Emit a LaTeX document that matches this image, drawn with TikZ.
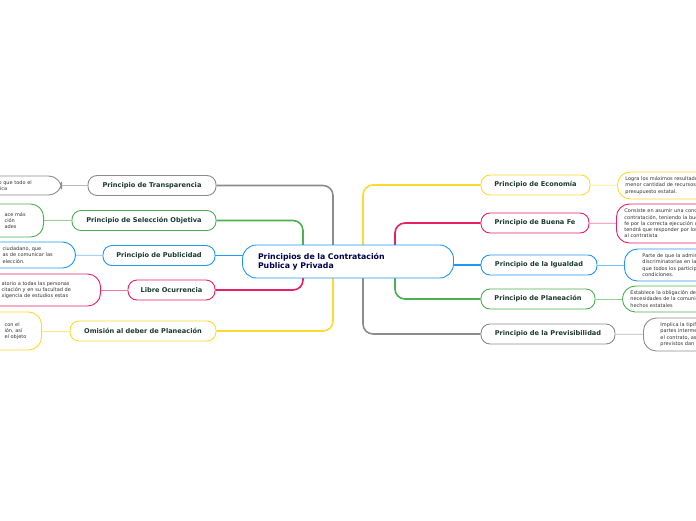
\documentclass[tikz,border=0pt]{standalone}
\usepackage{fontspec}
\setmainfont{DejaVu Sans}
\definecolor{cgray}{HTML}{8C8C8C}
\definecolor{cgreen}{HTML}{4CAF50}
\definecolor{cblue}{HTML}{2196F3}
\definecolor{cpink}{HTML}{E91E63}
\definecolor{cyel}{HTML}{FFD92F}
\definecolor{ctext}{HTML}{1B3A2E}
\tikzset{
  rama/.style={draw=#1, rounded corners=9pt, line width=0.9pt, fill=white, minimum height=20pt, inner xsep=6pt, font=\bfseries\fontsize{6.6}{7}\selectfont, text=ctext},
  hoja/.style={draw=#1, rounded corners=13pt, line width=0.9pt, fill=white, font=\fontsize{5}{6.2}\selectfont, align=left, text=black!80},
  enlace/.style={draw=#1, line width=1.6pt, rounded corners=10pt},
  fino/.style={draw=#1!60, line width=0.8pt}
}
\begin{document}
\begin{tikzpicture}[x=1pt,y=-1pt]
\useasboundingbox (0,0) rectangle (696,520);
\fill[white] (0,0) rectangle (696,520);

%%%%%%%% Ramas izquierda %%%%%%%%
\node[rama=cgray, minimum width=128pt] (transp) at (152,185.5) {Principio de Transparencia};
\node[rama=cgreen, minimum width=144pt] (selec) at (144,220.5) {Principio de Selección Objetiva};
\node[rama=cblue, minimum width=112pt] (publi) at (159,255.5) {Principio de Publicidad};
\node[rama=cpink, minimum width=87pt] (libre) at (171.5,290) {Libre Ocurrencia};
\node[rama=cyel, minimum width=146pt] (omis) at (143,331) {Omisión al deber de Planeación};

%%%%%%%% Ramas derecha %%%%%%%%
\node[rama=cyel, minimum width=109pt] (econ) at (535.5,185) {Principio de Economía};
\node[rama=cpink, minimum width=108pt] (buena) at (535,223) {Principio de Buena Fe};
\node[rama=cblue, minimum width=116pt] (igual) at (539,265) {Principio de la Igualdad};
\node[rama=cgreen, minimum width=114pt] (plan) at (538,299) {Principio de Planeación};
\node[rama=cgray, minimum width=134pt] (previ) at (548,334) {Principio de la Previsibilidad};

%%%%%%%% Enlaces %%%%%%%%
\coordinate (cc) at (348,261.5);
\draw[enlace=cgray] (transp.east) -- (333,185.5) -- (333,261.5) -- (cc);
\draw[enlace=cgreen] (selec.east) -- (303,220.5) -- (303,261.5) -- (cc);
\draw[enlace=cblue] (publi.east) -- (cc |- publi.east);
\draw[enlace=cpink] (libre.east) -- (303,290) -- (303,261.5) -- (cc);
\draw[enlace=cyel] (omis.east) -- (333,331) -- (333,261.5) -- (cc);
\draw[enlace=cyel] (cc) -- (363,261.5) -- (363,185) -- (econ.west);
\draw[enlace=cpink] (cc) -- (395,261.5) -- (395,223) -- (buena.west);
\draw[enlace=cblue] (cc |- igual.west) -- (igual.west);
\draw[enlace=cgreen] (cc) -- (395,261.5) -- (395,299) -- (plan.west);
\draw[enlace=cgray] (cc) -- (363,261.5) -- (363,334) -- (previ.west);

%%%%%%%% Centro %%%%%%%%
\node[draw=cblue, fill=white, rounded corners=14pt, line width=0.9pt, minimum width=211pt, minimum height=33pt, text width=180pt, align=left, font=\bfseries\fontsize{7.8}{9}\selectfont, text=blue!30!black] (centro) at (cc) {Principios de la Contratación\\Publica y Privada};

%%%%%%%% Hojas izquierda %%%%%%%%
\node[hoja=cgray, minimum width=100pt, minimum height=19pt, anchor=east, text width=84pt] (htransp) at (62,185.5) {\hspace*{29pt}o que todo el\\\hspace*{29pt}lica};
\node[hoja=cgreen, minimum width=100pt, minimum height=33pt, anchor=east, text width=84pt] (hselec) at (44,220.5) {\hspace*{53pt}ace más\\\hspace*{53pt}ción\\\hspace*{53pt}ades};
\node[hoja=cblue, minimum width=120pt, minimum height=26pt, anchor=east, text width=104pt] (hpubli) at (76,255) {\hspace*{39pt}ciudadano, que\\\hspace*{39pt}as de comunicar las\\\hspace*{39pt}elección.};
\node[hoja=cpink, minimum width=140pt, minimum height=32pt, anchor=east, text width=124pt] (hlibre) at (101,290) {\hspace*{33pt}atorio a todas las personas\\\hspace*{33pt}citación y en su facultad de\\\hspace*{33pt}xigencia de estudios estas};
\node[hoja=cyel, minimum width=100pt, minimum height=38pt, anchor=east, text width=84pt] (homis) at (42,331) {\hspace*{55pt}con el\\\hspace*{55pt}ión, así\\\hspace*{55pt}el objeto};
\draw[fino=cgray] (htransp) -- (transp);
\draw[fino=cgreen] (hselec) -- (selec);
\draw[fino=cblue] (hpubli) -- (publi);
\draw[fino=cpink] (hlibre) -- (libre);
\draw[fino=cyel] (homis) -- (omis);

%%%%%%%% Hojas derecha %%%%%%%%
\node[hoja=cyel, minimum width=120pt, minimum height=27pt, anchor=west, text width=104pt] (hecon) at (617,185.5) {Logra los máximos resultados con la\\menor cantidad de recursos del\\presupuesto estatal.};
\node[hoja=cpink, minimum width=120pt, minimum height=39pt, anchor=west, text width=104pt] (hbuena) at (616,223.5) {Consiste en asumir una conducta en la\\contratación, teniendo la buena\\fe por la correcta ejecución del contrato,\\tendrá que responder por los daños\\al contratista};
\node[hoja=cblue, minimum width=120pt, minimum height=32pt, anchor=west, text width=104pt] (higual) at (624,265) {\hspace*{10pt}Parte de que la administración\\\hspace*{10pt}discriminatorias en la\\\hspace*{10pt}que todos los participantes\\\hspace*{10pt}condiciones.};
\node[hoja=cgreen, minimum width=120pt, minimum height=26pt, anchor=west, text width=104pt] (hplan) at (622,299) {Establece la obligación de las\\necesidades de la comunidad\\hechos estatales};
\node[hoja=cgray, minimum width=120pt, minimum height=33pt, anchor=west, text width=104pt] (hprevi) at (643,334.5) {\hspace*{9pt}Implica la tipificación\\\hspace*{9pt}partes intermedias en\\\hspace*{9pt}el contrato, así\\\hspace*{9pt}previstos dan};
\draw[fino=cyel] (econ) -- (hecon);
\draw[fino=cpink] (buena) -- (hbuena);
\draw[fino=cblue] (igual) -- (higual);
\draw[fino=cgreen] (plan) -- (hplan);
\draw[fino=cgray] (previ) -- (hprevi);
\end{tikzpicture}
\end{document}
